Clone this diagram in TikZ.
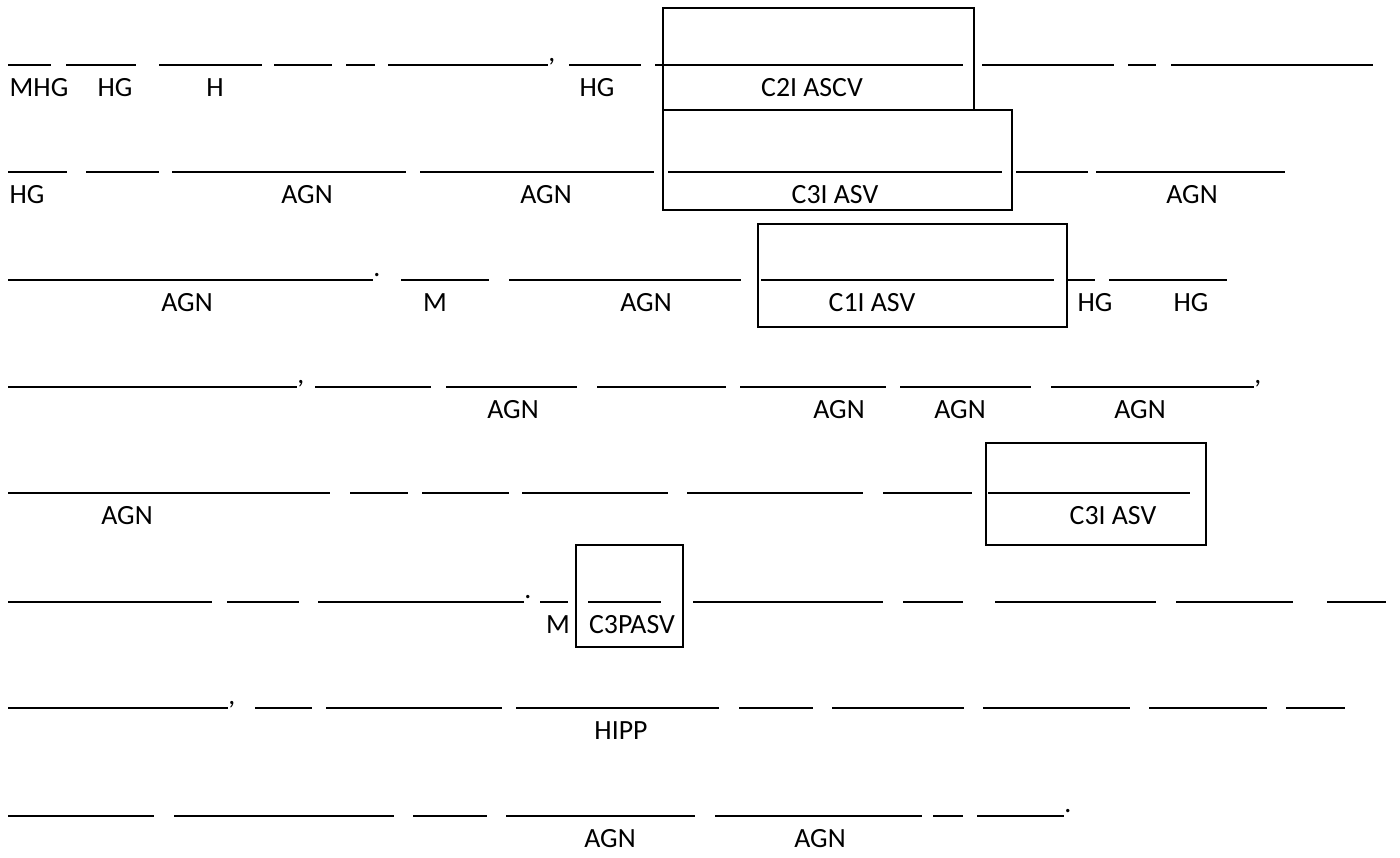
\documentclass[tikz,border=0pt]{standalone}
\usepackage{fontspec}
\setmainfont{Carlito}
\usepackage{tikz}
\tikzstyle{sheet}=[x=0.5pt, y=-0.5pt]
\tikzstyle{blank}=[line width=0.9pt, black]
\tikzstyle{box}=[draw, line width=1pt]
\tikzstyle{lab}=[anchor=base, inner sep=0pt, font=\fontsize{13.9}{16}\selectfont]
\tikzstyle{punct}=[anchor=base west, inner sep=0pt, font=\fontsize{13.9}{16}\selectfont]

\begin{document}
\begin{tikzpicture}[sheet]
	\useasboundingbox (0,0) rectangle (1400,857);
	% boxes
	\draw[box] (663,8) rectangle (974,110);
	\draw[box] (663,110) rectangle (1012,210);
	\draw[box] (758,224) rectangle (1067,327);
	\draw[box] (986,443) rectangle (1206,545);
	\draw[box] (576,545) rectangle (683,647);
	% row 1
	\foreach \a/\b in {8/51, 66/136, 159/262, 274/332, 346/375, 388/548, 569/641, 655/963, 982/1114, 1128/1156, 1171/1373}
		\draw[blank] (\a,65) -- (\b,65);
	\draw (548,61) node[punct] (p1) {,};
	\draw (39,96.5) node[lab] (r1a) {MHG};
	\draw (115,96.5) node[lab] (r1b) {HG};
	\draw (215,96.5) node[lab] (r1c) {H};
	\draw (597,96.5) node[lab] (r1d) {HG};
	\draw (812,96.5) node[lab] (r1e) {C2I ASCV};
	% row 2
	\foreach \a/\b in {8/67, 86/159, 172/406, 420/654, 668/1002, 1016/1088, 1096/1285}
		\draw[blank] (\a,172) -- (\b,172);
	\draw (27,203.5) node[lab] (r2a) {HG};
	\draw (307,203.5) node[lab] (r2b) {AGN};
	\draw (546,203.5) node[lab] (r2c) {AGN};
	\draw (835,203.5) node[lab] (r2d) {C3I ASV};
	\draw (1192,203.5) node[lab] (r2e) {AGN};
	% row 3
	\foreach \a/\b in {8/373, 401/489, 509/741, 761/1054, 1068/1095, 1109/1227}
		\draw[blank] (\a,280) -- (\b,280);
	\draw (373,276) node[punct] (p2) {.};
	\draw (187,311.5) node[lab] (r3a) {AGN};
	\draw (435,311.5) node[lab] (r3b) {M};
	\draw (646,311.5) node[lab] (r3c) {AGN};
	\draw (872,311.5) node[lab] (r3d) {C1I ASV};
	\draw (1095,311.5) node[lab] (r3e) {HG};
	\draw (1191,311.5) node[lab] (r3f) {HG};
	% row 4
	\foreach \a/\b in {8/297, 315/431, 446/577, 597/726, 740/886, 900/1031, 1051/1254}
		\draw[blank] (\a,387) -- (\b,387);
	\draw (297,383) node[punct] (p3) {,};
	\draw (1254,383) node[punct] (p4) {,};
	\draw (513,418.5) node[lab] (r4a) {AGN};
	\draw (839,418.5) node[lab] (r4b) {AGN};
	\draw (960,418.5) node[lab] (r4c) {AGN};
	\draw (1140,418.5) node[lab] (r4d) {AGN};
	% row 5
	\foreach \a/\b in {8/330, 350/408, 422/509, 522/668, 687/863, 883/972, 988/1190}
		\draw[blank] (\a,493) -- (\b,493);
	\draw (127,524.5) node[lab] (r5a) {AGN};
	\draw (1113,524.5) node[lab] (r5b) {C3I ASV};
	% row 6
	\foreach \a/\b in {8/212, 227/299, 318/524, 540/568, 588/661, 693/883, 903/963, 995/1156, 1176/1293, 1327/1386}
		\draw[blank] (\a,602) -- (\b,602);
	\draw (524,598) node[punct] (p5) {.};
	\draw (558,633.5) node[lab] (r6a) {M};
	\draw (632,633.5) node[lab] (r6b) {C3PASV};
	% row 7
	\foreach \a/\b in {8/228, 255/312, 326/502, 516/719, 739/813, 832/964, 983/1130, 1149/1267, 1286/1345}
		\draw[blank] (\a,708) -- (\b,708);
	\draw (228,704) node[punct] (p6) {,};
	\draw (621,739.5) node[lab] (r7a) {HIPP};
	% row 8
	\foreach \a/\b in {8/154, 174/394, 413/487, 506/695, 715/922, 933/963, 977/1064}
		\draw[blank] (\a,816) -- (\b,816);
	\draw (1064,812) node[punct] (p7) {.};
	\draw (610,847.5) node[lab] (r8a) {AGN};
	\draw (820,847.5) node[lab] (r8b) {AGN};
\end{tikzpicture}
\end{document}
